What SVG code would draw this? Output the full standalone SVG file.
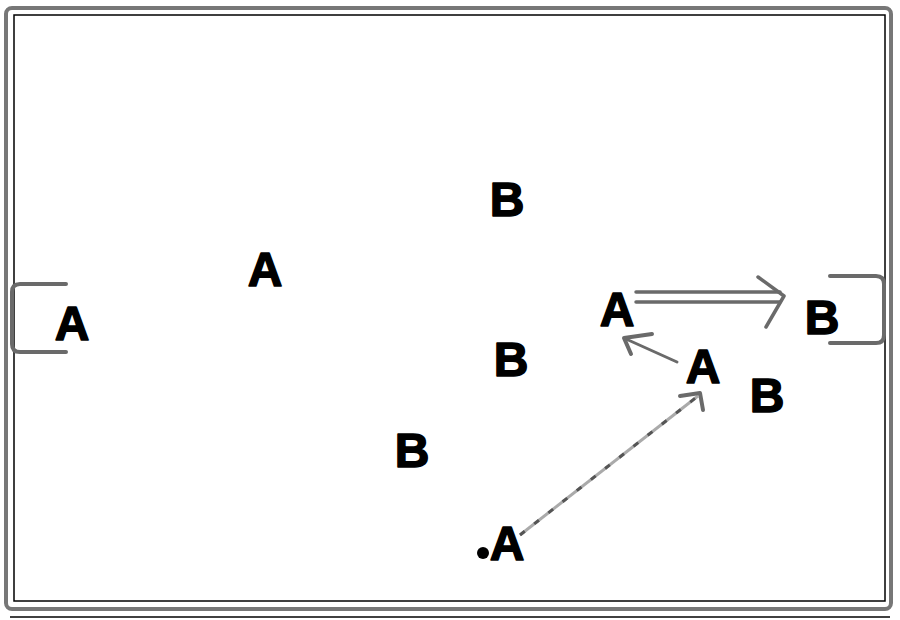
<svg xmlns="http://www.w3.org/2000/svg" width="900" height="620" viewBox="0 0 900 620">
<defs>
<style>
.p{font-family:"Liberation Sans",Arial,sans-serif;font-weight:bold;font-size:48px;fill:#000;stroke:#000;stroke-width:1.5;stroke-linejoin:round;text-anchor:middle}
.g{fill:none;stroke:#6a6a6a;stroke-linecap:round;stroke-linejoin:round}
.f{fill:none;stroke:#777;stroke-width:4}
.t{fill:none;stroke:#000;stroke-width:1.5}
</style>
</defs>
<rect width="900" height="620" fill="#fff"/>
<g id="field">
<rect class="f" x="6" y="8" width="885" height="601" rx="6"/>
<rect class="t" x="14" y="15" width="871" height="586"/>
<line class="t" x1="10" y1="617" x2="890" y2="617"/>
</g>
<g id="goals">
<path class="g" stroke-width="4" d="M66 284 H20 Q12 284 12 292 V344 Q12 352 20 352 H66"/>
<path class="g" stroke-width="4" d="M830 276 H876 Q884 276 884 284 V335 Q884 343 876 343 H830"/>
</g>
<g id="connectors">
<g id="pass-double">
<line class="g" stroke-width="3.5" x1="636" y1="292" x2="780" y2="292"/>
<line class="g" stroke-width="3.5" x1="636" y1="302" x2="780" y2="302"/>
<path class="g" stroke-width="3.5" d="M758 277 L784 296 L766 327"/>
</g>
<g id="run">
<line class="g" stroke-width="3" x1="677" y1="362" x2="626" y2="339"/>
<path class="g" stroke-width="4" d="M652 334 L624 338 L631 354"/>
</g>
<g id="pass-dashed">
<line x1="520" y1="535" x2="698" y2="396" stroke="#aaa" stroke-width="3"/>
<line x1="520" y1="535" x2="698" y2="396" stroke="#555" stroke-width="3" stroke-dasharray="6 12"/>
<path class="g" stroke-width="4" d="M680 396 L700 393 L703 410"/>
</g>
</g>
<g id="a1"><text class="p" x="265" y="286">A</text></g>
<g id="b1"><text class="p" x="507" y="216">B</text></g>
<g id="a2"><text class="p" x="72" y="340">A</text></g>
<g id="a3"><text class="p" x="617" y="326">A</text></g>
<g id="b2"><text class="p" x="822" y="334">B</text></g>
<g id="b3"><text class="p" x="511" y="376">B</text></g>
<g id="a4"><text class="p" x="703" y="383">A</text></g>
<g id="b4"><text class="p" x="767" y="412">B</text></g>
<g id="b5"><text class="p" x="412" y="467">B</text></g>
<g id="a5"><circle cx="483" cy="553" r="6" fill="#000"/><text class="p" x="507" y="560">A</text></g>
</svg>
